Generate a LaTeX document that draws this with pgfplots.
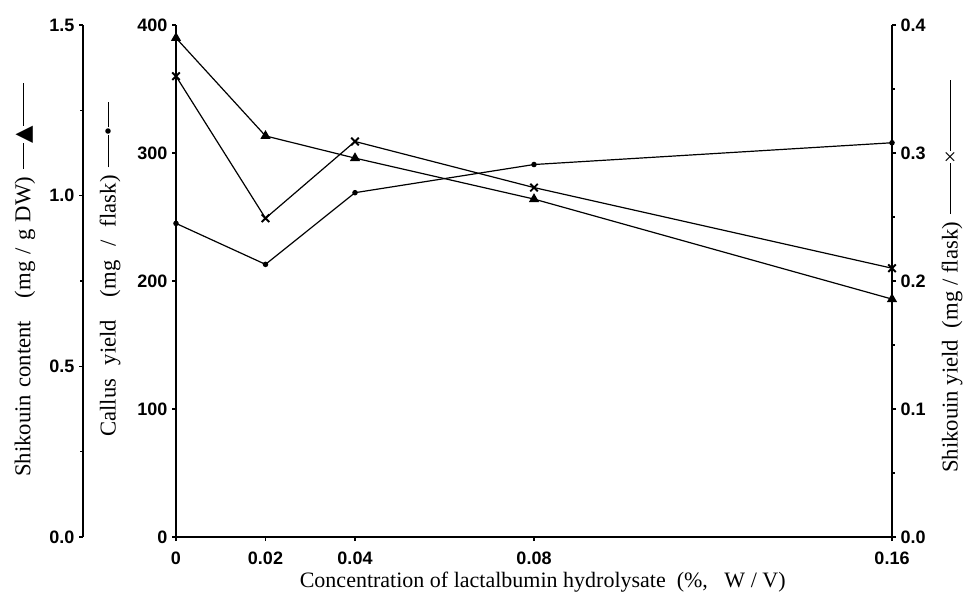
\documentclass[border=0pt]{standalone}
\usepackage{fontspec}
\setmainfont{Liberation Serif}
\newfontfamily\tickfont{Liberation Sans}
\newfontfamily\symfont{DejaVu Sans}
\usepackage{pgfplots}
\pgfplotsset{compat=1.18}

\pgfplotsset{
  base/.style={
    scale only axis, width=537pt, height=384pt,
    at={(132pt,45pt)}, anchor=south west,
    xmin=0, xmax=0.16, ymin=0,
    axis line style={line width=1.2pt,-},
    tick style={line width=0.8pt, black},
    major tick length=3pt, minor tick length=2pt,
    tick align=outside,
    ticklabel style={font=\tickfont\bfseries\fontsize{13.5}{13.5}\selectfont},
    every axis plot/.append style={line width=0.9pt, black},
    clip=false,
  }
}
\newcommand{\lbl}{\fontsize{17}{17}\selectfont}
\newcommand{\dash}[1]{\rule[0.3em]{#1}{0.8pt}}

\begin{document}
\begin{tikzpicture}
\useasboundingbox (0,0) rectangle (724.5pt,447.75pt);

% callus yield (mg/flask), left inner axis
\begin{axis}[base, ymax=400,
    axis x line*=bottom, axis y line*=left,
    xtick={0,0.02,0.04,0.08,0.16},
    xticklabels={0,0.02,0.04,0.08,0.16},
    xticklabel style={yshift=-5pt},
    ytick={0,100,200,300,400},
    yticklabels={0,100,200,300,400}]
\addplot[mark=*, mark size=1.6pt] coordinates {
  (0,245) (0.02,213) (0.04,269) (0.08,291) (0.16,308)};
\end{axis}

% shikonin yield (mg/flask), right axis
\begin{axis}[base, ymax=0.4,
    axis x line=none, axis y line*=right,
    ytick={0,0.1,0.2,0.3,0.4},
    yticklabels={0.0,0.1,0.2,0.3,0.4},
    minor y tick num=1]
\addplot[mark=x, mark size=4pt, mark options={line width=1.4pt}] coordinates {
  (0,0.360) (0.02,0.249) (0.04,0.309) (0.08,0.273) (0.16,0.210)};
\end{axis}

% shikonin content (mg/g DW), outer left axis
\begin{axis}[base, at={(62.25pt,45pt)}, width=606.75pt,
    xmin=-0.020782, ymax=1.5,
    axis x line=none, axis y line*=left,
    ytick={0,0.5,1,1.5},
    yticklabels={0.0,0.5,1.0,1.5},
    minor y tick num=1]
\addplot[mark=triangle*, mark size=3.5pt] coordinates {
  (0,1.462) (0.02,1.175) (0.04,1.110) (0.08,0.990) (0.16,0.697)};
\end{axis}

\node[rotate=90, anchor=west, font=\lbl, inner sep=0pt] at (18.75pt,90pt)
  {\makebox[225pt][s]{Shikouin content\quad(mg / g DW)}\hspace{6pt}\dash{19pt}{\symfont ▲}\dash{32pt}};
\node[rotate=90, anchor=west, font=\lbl, inner sep=0pt] at (82.5pt,120pt)
  {\makebox[196pt][s]{Callus yield\quad(mg / flask)}\hspace{6pt}\dash{24pt}•\dash{19pt}};
\node[rotate=90, anchor=west, font=\lbl, inner sep=0pt] at (714pt,93pt)
  {\makebox[188pt][s]{Shikouin yield\ \ (mg / flask)}\hspace{6pt}\dash{38pt}×\dash{53pt}};
\node[font=\fontsize{16.5}{16.5}\selectfont] at (407pt,11.25pt)
  {Concentration of lactalbumin hydrolysate\ \ (\%,\ \ \ W / V)};
\end{tikzpicture}
\end{document}
